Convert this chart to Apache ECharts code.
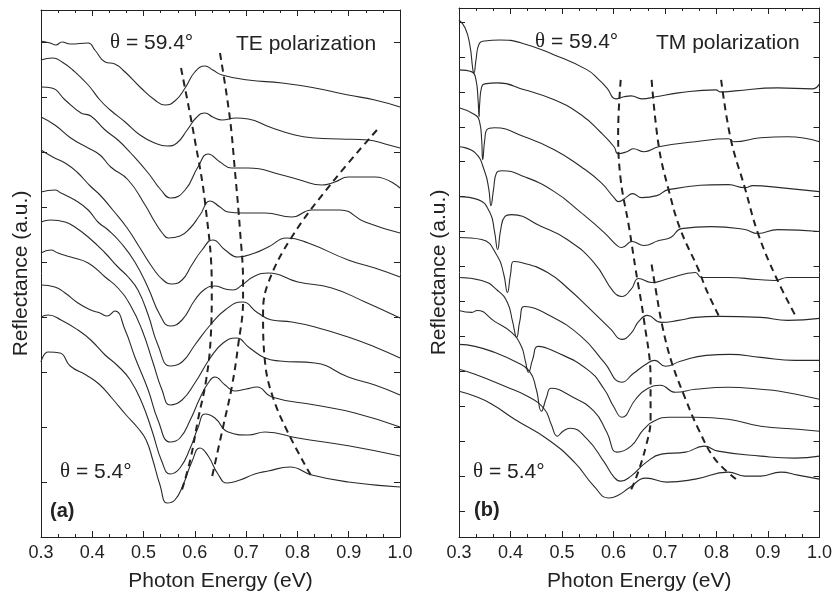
<!DOCTYPE html>
<html>
<head>
<meta charset="utf-8">
<script src="https://cdn.jsdelivr.net/npm/echarts@6/dist/echarts.min.js"></script>
<style>
  html, body { margin: 0; padding: 0; background: #fff; }
  #chart { width: 835px; height: 597px; }
</style>
</head>
<body>
<div id="chart"></div>
<script>
// reflectance spectra, offset vertically (a.u.), photon energy in eV
// curves listed from top (theta = 59.4 deg) down to bottom (theta = 5.4 deg)

// (a) TE polarization
var te1 = [[0.300,496],[0.318,494],[0.329,492],[0.341,495],[0.357,493],[0.392,494],[0.405,487],[0.425,475],[0.444,473],[0.464,465],[0.493,450],[0.522,437],[0.542,432],[0.561,436],[0.581,449],[0.600,465],[0.620,471],[0.635,467],[0.653,462],[0.704,457],[0.770,454],[0.834,449],[0.899,442],[0.951,437],[1.000,430]];
var te2 = [[0.300,477],[0.323,479],[0.341,475],[0.362,467],[0.392,452],[0.415,437],[0.435,427],[0.464,415],[0.493,402],[0.522,394],[0.546,391],[0.565,394],[0.585,407],[0.604,420],[0.620,424],[0.635,420],[0.653,417],[0.680,419],[0.704,418],[0.746,410],[0.795,402],[0.834,399],[0.883,398],[0.938,397],[0.971,393],[1.000,389]];
var te3 = [[0.300,450],[0.321,449],[0.347,437],[0.378,424],[0.397,421],[0.425,407],[0.450,397],[0.475,384],[0.509,364],[0.534,347],[0.553,339],[0.581,347],[0.606,370],[0.626,383],[0.649,375],[0.672,369],[0.704,369],[0.770,362],[0.805,357],[0.848,352],[0.873,355],[0.899,360],[0.951,360],[1.000,349]];
var te4 = [[0.300,420],[0.327,412],[0.358,399],[0.392,389],[0.415,382],[0.436,370],[0.470,357],[0.503,332],[0.522,315],[0.538,303],[0.548,299],[0.571,301],[0.591,309],[0.610,322],[0.630,336],[0.649,330],[0.665,325],[0.692,324],[0.737,324],[0.789,320],[0.828,327],[0.883,327],[0.932,315],[1.000,304]];
var te5 = [[0.300,387],[0.323,380],[0.347,374],[0.370,365],[0.396,351],[0.415,342],[0.440,327],[0.468,309],[0.493,289],[0.518,269],[0.538,257],[0.555,253],[0.575,257],[0.594,272],[0.614,287],[0.635,297],[0.659,287],[0.684,280],[0.717,284],[0.743,290],[0.780,299],[0.821,294],[0.899,277],[0.951,269],[1.000,260]];
var te6 = [[0.300,345],[0.327,347],[0.339,344],[0.366,337],[0.392,327],[0.411,315],[0.431,307],[0.456,294],[0.483,275],[0.509,249],[0.532,222],[0.552,211],[0.575,217],[0.600,237],[0.620,248],[0.639,251],[0.659,248],[0.674,247],[0.692,252],[0.717,261],[0.743,264],[0.801,255],[0.867,249],[0.932,235],[1.000,219]];
var te7 = [[0.300,315],[0.319,317],[0.347,315],[0.366,310],[0.392,300],[0.425,284],[0.450,270],[0.470,260],[0.489,247],[0.509,222],[0.528,192],[0.552,171],[0.575,175],[0.600,192],[0.630,212],[0.659,227],[0.692,235],[0.723,224],[0.750,217],[0.789,215],[0.834,210],[0.899,200],[0.951,190],[1.000,179]];
var te8 = [[0.300,284],[0.319,287],[0.333,284],[0.358,280],[0.392,274],[0.425,260],[0.450,249],[0.474,232],[0.497,207],[0.518,175],[0.536,147],[0.552,132],[0.575,137],[0.600,154],[0.630,179],[0.655,194],[0.680,199],[0.707,189],[0.737,179],[0.766,176],[0.834,174],[0.899,160],[0.951,152],[1.000,142]];
var te9 = [[0.300,252],[0.327,250],[0.347,244],[0.372,234],[0.397,227],[0.415,224],[0.429,221],[0.444,226],[0.464,207],[0.483,180],[0.509,147],[0.528,117],[0.552,95],[0.571,99],[0.591,117],[0.610,139],[0.626,154],[0.639,160],[0.659,152],[0.678,146],[0.700,148],[0.721,150],[0.750,140],[0.834,132],[0.912,124],[1.000,110]];
var te10 = [[0.300,220],[0.314,222],[0.339,217],[0.372,207],[0.397,197],[0.425,182],[0.450,171],[0.474,157],[0.497,134],[0.516,107],[0.536,75],[0.552,63],[0.571,69],[0.591,89],[0.606,109],[0.620,123],[0.639,119],[0.665,105],[0.704,102],[0.737,105],[0.801,99],[0.902,91],[1.000,81]];
var te11 = [[0.300,175],[0.314,185],[0.337,184],[0.357,171],[0.388,162],[0.413,153],[0.438,139],[0.466,122],[0.489,109],[0.505,97],[0.518,77],[0.532,52],[0.546,34],[0.561,37],[0.577,52],[0.594,75],[0.610,89],[0.626,81],[0.645,63],[0.663,54],[0.688,57],[0.717,63],[0.743,66],[0.785,70],[0.828,62],[0.899,55],[1.000,50]];

// dashed guides through the TE features
var teGuide1 = [[0.573,469],[0.600,397],[0.620,334],[0.633,250],[0.631,200],[0.622,157],[0.606,117],[0.591,77],[0.573,44]];
var teGuide2 = [[0.649,484],[0.668,420],[0.678,367],[0.688,307],[0.694,254],[0.694,237],[0.684,190],[0.672,150],[0.655,110],[0.633,59]];
var teGuide3 = [[0.955,407],[0.867,354],[0.789,300],[0.743,254],[0.733,224],[0.737,174],[0.752,140],[0.782,104],[0.828,60]];

// (b) TM polarization
var tm1 = [[0.300,518],[0.312,510],[0.321,493],[0.327,468],[0.329,465],[0.333,478],[0.339,494],[0.350,497],[0.379,498],[0.421,495],[0.485,483],[0.549,468],[0.572,458],[0.587,450],[0.605,439],[0.620,441],[0.634,442],[0.655,439],[0.682,441],[0.726,445],[0.799,448],[0.807,446],[0.817,446],[0.836,447],[0.919,450],[0.986,449],[1.000,454]];
var tm2 = [[0.300,468],[0.325,466],[0.333,458],[0.337,438],[0.339,421],[0.340,433],[0.344,451],[0.350,454],[0.375,455],[0.427,448],[0.485,438],[0.537,423],[0.576,405],[0.601,391],[0.609,384],[0.626,386],[0.639,389],[0.659,386],[0.688,391],[0.759,396],[0.823,399],[0.834,396],[0.886,400],[0.938,401],[1.000,396]];
var tm3 = [[0.300,430],[0.331,423],[0.340,416],[0.344,398],[0.346,378],[0.350,398],[0.354,408],[0.369,410],[0.427,401],[0.485,388],[0.537,371],[0.576,355],[0.601,340],[0.610,336],[0.624,340],[0.637,344],[0.655,340],[0.684,342],[0.707,348],[0.823,353],[0.855,350],[0.871,352],[0.923,350],[1.000,346]];
var tm4 = [[0.300,391],[0.331,385],[0.350,366],[0.358,348],[0.362,332],[0.367,348],[0.373,365],[0.383,367],[0.427,361],[0.485,346],[0.537,325],[0.582,305],[0.607,292],[0.616,290],[0.636,296],[0.659,292],[0.688,297],[0.711,300],[0.732,309],[0.790,311],[0.855,308],[0.880,304],[0.919,308],[1.000,306]];
var tm5 = [[0.300,341],[0.337,338],[0.360,325],[0.369,306],[0.375,288],[0.381,308],[0.389,321],[0.402,323],[0.460,311],[0.510,298],[0.562,275],[0.601,245],[0.616,241],[0.634,248],[0.649,259],[0.674,255],[0.707,259],[0.759,265],[0.771,260],[0.823,260],[0.880,258],[0.913,257],[0.938,260],[1.000,260]];
var tm6 = [[0.300,300],[0.344,298],[0.375,281],[0.387,263],[0.394,245],[0.400,263],[0.406,276],[0.421,275],[0.472,265],[0.514,248],[0.549,231],[0.595,208],[0.616,198],[0.634,204],[0.649,216],[0.666,222],[0.693,215],[0.726,217],[0.759,220],[0.803,221],[0.886,220],[0.938,217],[1.000,219]];
var tm7 = [[0.300,260],[0.344,257],[0.375,247],[0.394,235],[0.404,216],[0.412,200],[0.418,216],[0.427,231],[0.472,223],[0.537,201],[0.582,175],[0.616,155],[0.639,164],[0.663,173],[0.680,177],[0.701,171],[0.730,176],[0.780,182],[0.826,183],[0.886,180],[0.952,177],[1.000,177]];
var tm8 = [[0.300,227],[0.325,225],[0.335,227],[0.369,216],[0.402,205],[0.421,191],[0.429,176],[0.435,165],[0.443,178],[0.454,191],[0.485,186],[0.549,168],[0.582,148],[0.601,130],[0.616,120],[0.643,138],[0.664,148],[0.691,152],[0.720,145],[0.759,148],[0.823,150],[0.886,148],[0.923,146],[1.000,138]];
var tm9 = [[0.300,193],[0.331,191],[0.369,185],[0.408,176],[0.437,166],[0.450,148],[0.460,126],[0.470,140],[0.479,149],[0.518,141],[0.562,126],[0.587,105],[0.607,85],[0.634,91],[0.659,108],[0.682,117],[0.707,120],[0.759,120],[0.823,118],[0.886,111],[0.958,108],[1.000,106]];
var tm10 = [[0.300,168],[0.331,163],[0.389,151],[0.433,141],[0.466,128],[0.479,113],[0.491,101],[0.502,106],[0.516,109],[0.549,98],[0.582,75],[0.601,60],[0.614,56],[0.634,61],[0.664,75],[0.693,83],[0.740,85],[0.776,91],[0.803,86],[0.886,81],[0.952,79],[1.000,81]];
var tm11 = [[0.300,146],[0.331,141],[0.364,133],[0.408,118],[0.472,98],[0.524,75],[0.562,51],[0.591,39],[0.610,42],[0.630,49],[0.664,59],[0.703,55],[0.759,58],[0.823,65],[0.855,61],[0.886,61],[0.925,65],[0.958,62],[1.000,58]];

var tmGuide1 = [[0.614,458],[0.609,405],[0.614,358],[0.630,311],[0.643,268],[0.659,218],[0.672,158],[0.672,118],[0.663,91],[0.643,58],[0.630,43]];
var tmGuide2 = [[0.674,273],[0.682,248],[0.695,211],[0.713,175],[0.740,138],[0.765,108],[0.797,78],[0.838,58]];
var tmGuide3 = [[0.674,458],[0.688,391],[0.707,348],[0.730,308],[0.765,268],[0.780,248],[0.805,221]];
var tmGuide4 = [[0.809,458],[0.828,398],[0.855,350],[0.880,305],[0.915,261],[0.954,221]];

var teCurves = [te1, te2, te3, te4, te5, te6, te7, te8, te9, te10, te11];
var tmCurves = [tm1, tm2, tm3, tm4, tm5, tm6, tm7, tm8, tm9, tm10, tm11];
var teGuides = [teGuide1, teGuide2, teGuide3];
var tmGuides = [tmGuide1, tmGuide2, tmGuide3, tmGuide4];

var energyMin = 0.3, energyMax = 1.0, energyStep = 0.1;
var teMax = 527, teTickStep = 55;
var tmMax = 530;
var tmTicks = [26, 61, 96, 131, 166, 201, 236, 271, 306, 341, 376, 411, 446, 481, 516];

var ink = '#222';
var sans = 'Liberation Sans, Arial, Helvetica, sans-serif';

function xAxes(grid, pos) {
    return {
        type: 'value', gridIndex: grid, position: pos,
        min: energyMin, max: energyMax, interval: energyStep,
        axisLine: { show: true, onZero: false, lineStyle: { color: ink, width: 1 } },
        axisTick: { show: true, inside: true, length: 6, lineStyle: { color: ink } },
        minorTick: { show: true, splitNumber: 3, length: 3, lineStyle: { color: ink } },
        splitLine: { show: false },
        axisLabel: {
            show: pos === 'bottom', color: ink, fontSize: 18, fontFamily: sans, margin: 7,
            formatter: function (v) { return v.toFixed(1); }
        },
        name: pos === 'bottom' ? 'Photon Energy (eV)' : '',
        nameLocation: 'middle', nameGap: 34,
        nameTextStyle: { color: ink, fontSize: 21, fontFamily: sans }
    };
}

function yAxes(grid, pos, max, ticks) {
    var ax = {
        type: 'value', gridIndex: grid, position: pos,
        min: 0, max: max,
        axisLine: { show: true, onZero: false, lineStyle: { color: ink, width: 1 } },
        axisTick: { show: true, inside: true, length: 6, lineStyle: { color: ink } },
        splitLine: { show: false },
        axisLabel: { show: false },
        name: pos === 'left' ? 'Reflectance (a.u.)' : '',
        nameLocation: 'middle', nameGap: 9,
        nameTextStyle: { color: ink, fontSize: 21, fontFamily: sans }
    };
    if (Array.isArray(ticks)) {
        ax.axisTick.customValues = ticks;
    } else {
        ax.interval = ticks;
    }
    return ax;
}

var series = [];
teCurves.forEach(function (d, i) {
    series.push({ name: 'TE ' + (i + 1), type: 'line', xAxisIndex: 0, yAxisIndex: 0, data: d,
        symbol: 'none', smooth: 0.5,
        lineStyle: { color: '#2a2a2a', width: 1.1 } });
});
teGuides.forEach(function (d, i) {
    series.push({ name: 'TE guide ' + (i + 1), type: 'line', xAxisIndex: 0, yAxisIndex: 0, data: d,
        symbol: 'none', smooth: 0.4,
        lineStyle: { color: ink, width: 2, type: [7, 5] } });
});
tmCurves.forEach(function (d, i) {
    series.push({ name: 'TM ' + (i + 1), type: 'line', xAxisIndex: 2, yAxisIndex: 2, data: d,
        symbol: 'none', smooth: 0.5,
        lineStyle: { color: '#2a2a2a', width: 1.1 } });
});
tmGuides.forEach(function (d, i) {
    series.push({ name: 'TM guide ' + (i + 1), type: 'line', xAxisIndex: 2, yAxisIndex: 2, data: d,
        symbol: 'none', smooth: 0.4,
        lineStyle: { color: ink, width: 2, type: [7, 5] } });
});

function label(x, y, str, size, bold) {
    return {
        type: 'text', left: x, top: y - size * 0.6, silent: true,
        style: {
            text: str, fill: ink, fontSize: size, fontFamily: sans,
            fontWeight: bold ? 'bold' : 'normal',
            rich: { th: { fontFamily: 'Liberation Serif, DejaVu Serif, serif', fontSize: size, fill: ink } }
        }
    };
}

var chart = echarts.init(document.getElementById('chart'), null, { renderer: 'canvas' });
chart.setOption({
    animation: false,
    backgroundColor: '#fff',
    grid: [
        { left: 41, top: 10, width: 359, height: 527 },
        { left: 459, top: 8, width: 363, height: 530 }
    ],
    xAxis: [xAxes(0, 'bottom'), xAxes(0, 'top'), xAxes(1, 'bottom'), xAxes(1, 'top')],
    yAxis: [
        yAxes(0, 'left', teMax, teTickStep), yAxes(0, 'right', teMax, teTickStep),
        yAxes(1, 'left', tmMax, tmTicks), yAxes(1, 'right', tmMax, tmTicks)
    ],
    series: series,
    graphic: [
        label(110, 45, '{th|θ} = 59.4°', 21),
        label(236, 46, 'TE polarization', 21),
        label(60, 474, '{th|θ} = 5.4°', 21),
        label(50, 513, '(a)', 20, true),
        label(535, 44, '{th|θ} = 59.4°', 21),
        label(656, 45, 'TM polarization', 21),
        label(473, 474, '{th|θ} = 5.4°', 21),
        label(474, 512, '(b)', 20, true)
    ]
});
</script>
</body>
</html>
